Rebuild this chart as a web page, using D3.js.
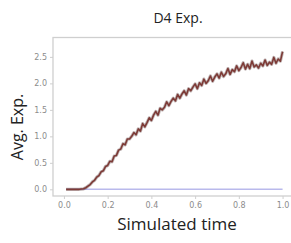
<!DOCTYPE html>
<html>
<head>
<meta charset="utf-8">
<script src="https://cdn.jsdelivr.net/npm/d3@7"></script>
<style>
  body { margin: 0; background: white; }
  svg { display: block; font-family: 'Open Sans', sans-serif; }
</style>
</head>
<body>
<main></main>
<script>
// data
const times = d3.range(1, 101).map(i => i / 100);
const expValues = [
  0, 0, 0, 0, 0, 0, 0, 0.005, 0.01, 0.03,
  0.06, 0.09, 0.14, 0.17, 0.23, 0.26, 0.33, 0.35, 0.43, 0.45,
  0.53, 0.52, 0.63, 0.64, 0.74, 0.76, 0.86, 0.84, 0.95, 0.95,
  1.00, 1.07, 1.03, 1.14, 1.10, 1.24, 1.18, 1.26, 1.35, 1.30,
  1.40, 1.47, 1.40, 1.53, 1.50, 1.55, 1.65, 1.58, 1.66, 1.72,
  1.67, 1.79, 1.72, 1.80, 1.86, 1.78, 1.90, 1.86, 1.93, 1.99,
  1.90, 2.01, 1.96, 2.08, 2.00, 2.05, 2.14, 2.04, 2.12, 2.18,
  2.10, 2.21, 2.13, 2.18, 2.28, 2.17, 2.26, 2.22, 2.33, 2.24,
  2.30, 2.39, 2.27, 2.36, 2.28, 2.42, 2.31, 2.35, 2.29, 2.38,
  2.33, 2.44, 2.34, 2.40, 2.36, 2.49, 2.38, 2.46, 2.42, 2.60
];
const baseValues = times.map(() => 0);
const xTicks = [0, 0.2, 0.4, 0.6, 0.8, 1.0];
const yTicks = [0, 0.5, 1.0, 1.5, 2.0, 2.5];

const width = 291;
const height = 243;
const plotLeft = 53;
const plotRight = 293.5;
const plotTop = 37.5;
const plotBottom = 196;
const frameColor = '#cfcfcf';
const tickColor = '#8c8c8c';
const expColor = '#7d3a36';
const baseColor = '#b9b9ec';

const xScale = d3.scaleLinear()
  .domain([-0.05, 1.05])
  .range([plotLeft, plotRight])

const yScale = d3.scaleLinear()
  .domain([-0.126, 2.866])
  .range([plotBottom, plotTop])

const svg = d3.select('main')
  .append('svg')
  .attr('width', width)
  .attr('height', height)

// frame
svg.append('rect')
  .attr('x', plotLeft)
  .attr('y', plotTop)
  .attr('width', plotRight - plotLeft)
  .attr('height', plotBottom - plotTop)
  .style('fill', 'white')
  .style('stroke', frameColor)
  .style('stroke-width', 1.3)

// x-axis
const xAxis = svg.append('g')
  .attr('transform', `translate(0, ${plotBottom})`)
  .call(d3.axisBottom(xScale).tickValues(xTicks).tickFormat(d3.format('.1f')).tickSize(3).tickPadding(3))

// y-axis
const yAxis = svg.append('g')
  .attr('transform', `translate(${plotLeft}, 0)`)
  .call(d3.axisLeft(yScale).tickValues(yTicks).tickFormat(d3.format('.1f')).tickSize(3).tickPadding(3))

;[xAxis, yAxis].forEach(ax => {
  ax.select('.domain').remove()
  ax.selectAll('.tick line').style('stroke', frameColor)
  ax.selectAll('.tick text')
    .style('fill', tickColor)
    .style('font-size', '8px')
    .style('font-family', "'DejaVu Sans', sans-serif")
})

const line = d3.line()
  .x((d, i) => xScale(times[i]))
  .y(d => yScale(d))

// base series
svg.append('path')
  .datum(baseValues)
  .attr('d', line)
  .style('fill', 'none')
  .style('stroke', baseColor)
  .style('stroke-width', 1.5)

// expected series
svg.append('path')
  .datum(expValues)
  .attr('d', line)
  .style('fill', 'none')
  .style('stroke', '#4a2a2a')
  .style('stroke-opacity', 0.35)
  .style('stroke-width', 3.2)
  .style('stroke-linejoin', 'round')

svg.append('path')
  .datum(expValues)
  .attr('d', line)
  .style('fill', 'none')
  .style('stroke', expColor)
  .style('stroke-width', 1.6)
  .style('stroke-linejoin', 'round')

// title
svg.append('text')
  .text('D4 Exp.')
  .attr('x', 178)
  .attr('y', 22.5)
  .attr('text-anchor', 'middle')
  .style('font-size', '14px')
  .style('fill', '#222')

// x label
svg.append('text')
  .text('Simulated time')
  .attr('x', 177)
  .attr('y', 229.5)
  .attr('text-anchor', 'middle')
  .style('font-size', '17px')
  .style('fill', '#222')

// y label
svg.append('text')
  .text('Avg. Exp.')
  .attr('transform', 'translate(22.5, 127) rotate(-90)')
  .attr('text-anchor', 'middle')
  .style('font-size', '16px')
  .style('fill', '#222')
</script>
</body>
</html>
